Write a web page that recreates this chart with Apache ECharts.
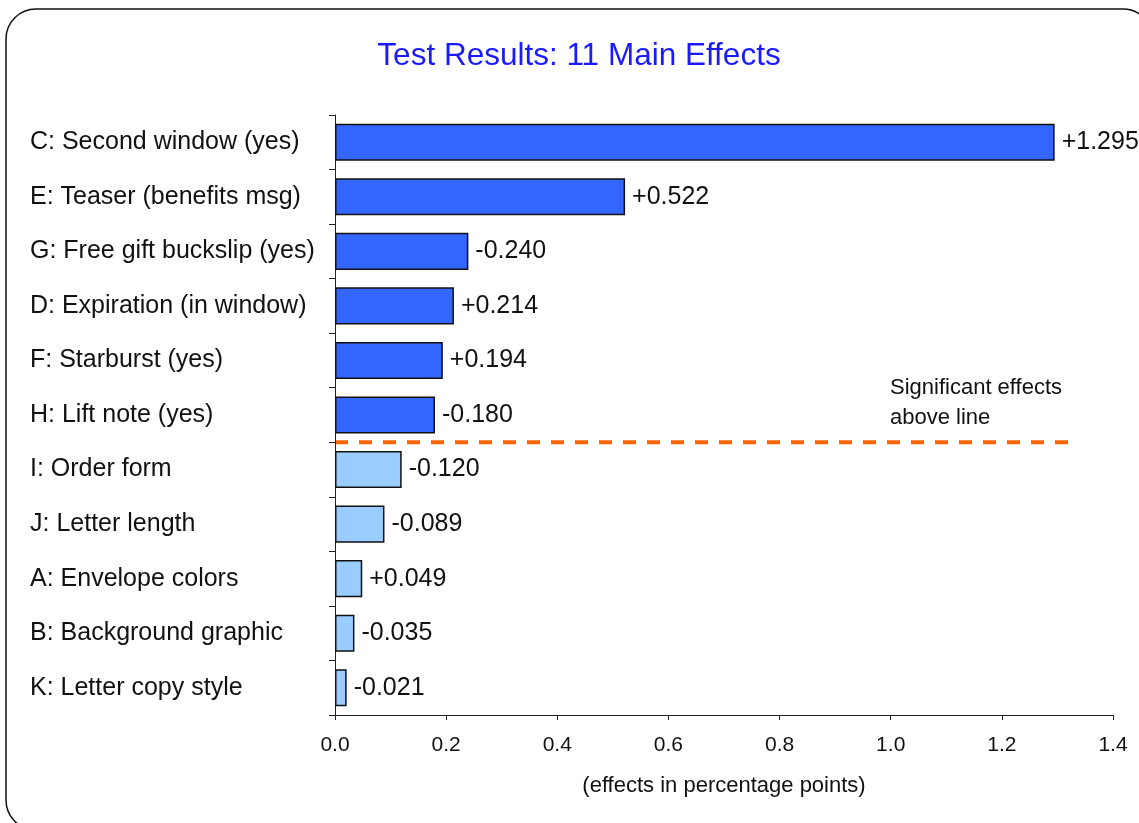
<!DOCTYPE html>
<html>
<head>
<meta charset="utf-8">
<script src="https://cdn.jsdelivr.net/npm/echarts@6/dist/echarts.min.js"></script>
<style>
html, body { margin: 0; padding: 0; background: #fff; }
#main { width: 1139px; height: 823px; }
</style>
</head>
<body>
<div id="main"></div>
<script>
var categories = ['C: Second window (yes)', 'E: Teaser (benefits msg)', 'G: Free gift buckslip (yes)',
    'D: Expiration (in window)', 'F: Starburst (yes)', 'H: Lift note (yes)', 'I: Order form',
    'J: Letter length', 'A: Envelope colors', 'B: Background graphic', 'K: Letter copy style'];
var effects = [1.295, 0.522, 0.240, 0.214, 0.194, 0.180, 0.120, 0.089, 0.049, 0.035, 0.021];
var effectLabels = ['+1.295', '+0.522', '-0.240', '+0.214', '+0.194', '-0.180', '-0.120', '-0.089', '+0.049', '-0.035', '-0.021'];
var significantCount = 6;
var lineEnd = 1.325;

var chart = echarts.init(document.getElementById('main'));
var font = '"Liberation Sans", Arial, sans-serif';

var option = {
    animation: false,
    textStyle: { fontFamily: font },
    title: {
        text: 'Test Results: 11 Main Effects',
        left: 574,
        textAlign: 'center',
        top: 35,
        textStyle: { color: '#1a1aff', fontSize: 31.5, fontWeight: 'normal', fontFamily: font }
    },
    grid: { left: 335, right: 26, top: 115, bottom: 108 },
    xAxis: {
        type: 'value',
        min: 0, max: 1.4, interval: 0.2,
        splitLine: { show: false },
        axisLine: { show: true, lineStyle: { color: '#222', width: 1 } },
        axisTick: { show: true, length: 5, lineStyle: { color: '#222' } },
        axisLabel: {
            color: '#111', fontSize: 21, margin: 20,
            formatter: function (v) { return v.toFixed(1); }
        },
        name: '(effects in percentage points)',
        nameLocation: 'middle',
        nameGap: 60,
        nameTextStyle: { color: '#111', fontSize: 22 }
    },
    yAxis: {
        type: 'category',
        inverse: true,
        data: categories,
        axisLine: { show: true, lineStyle: { color: '#222', width: 1 } },
        axisTick: { show: true, length: 6, lineStyle: { color: '#222' } },
        axisLabel: { color: '#111', fontSize: 25, align: 'left', margin: 305 }
    },
    series: [{
        type: 'bar',
        barCategoryGap: '32%',
        data: effects.map(function (v, i) {
            return {
                value: v,
                itemStyle: { color: i < significantCount ? '#3366ff' : '#99ccff' }
            };
        }),
        itemStyle: { borderColor: '#111', borderWidth: 1.5 },
        label: {
            show: true,
            position: 'right',
            distance: 7,
            color: '#111',
            fontSize: 25,
            formatter: function (p) { return effectLabels[p.dataIndex]; }
        }
    }]
};
chart.setOption(option);

// threshold line between last significant effect and the rest
var a = chart.convertToPixel({ gridIndex: 0 }, [0, significantCount - 1]);
var b = chart.convertToPixel({ gridIndex: 0 }, [lineEnd, significantCount]);
var lineY = (a[1] + b[1]) / 2;

chart.setOption({
    graphic: [
        {
            type: 'rect',
            silent: true,
            shape: { x: 6, y: 9, width: 1147, height: 821, r: 30 },
            style: { fill: 'none', stroke: '#111', lineWidth: 1.5 }
        },
        {
            type: 'line',
            silent: true,
            shape: { x1: a[0], y1: lineY, x2: b[0], y2: lineY },
            style: { stroke: '#ff6600', lineWidth: 4, lineDash: [13, 11] }
        },
        {
            type: 'text',
            silent: true,
            left: 890,
            top: 373,
            style: {
                text: 'Significant effects\nabove line',
                fill: '#111',
                font: '22px ' + font,
                lineHeight: 30
            }
        }
    ]
});
</script>
</body>
</html>
